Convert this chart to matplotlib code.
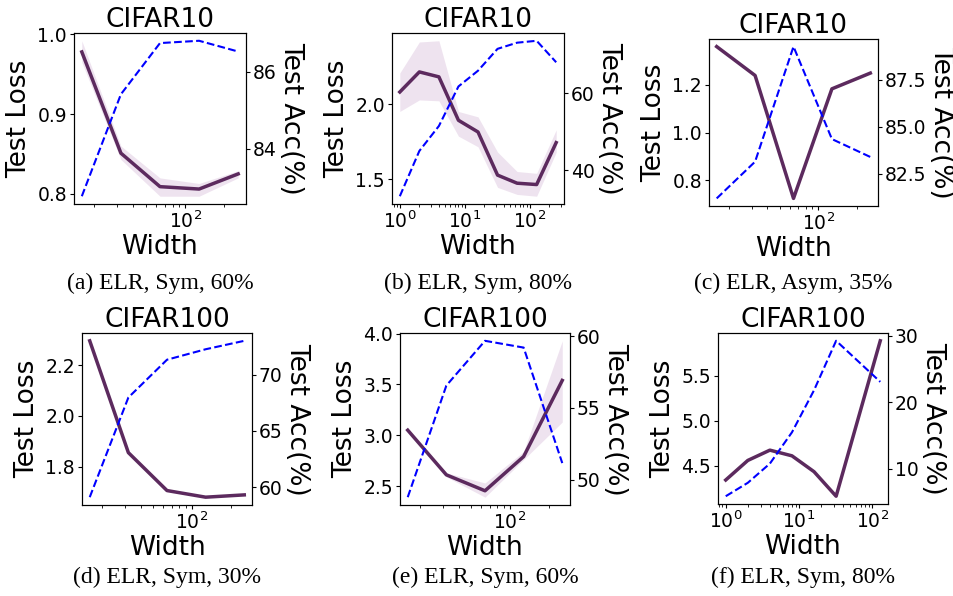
import numpy as np
import matplotlib.pyplot as plt
from matplotlib.ticker import MultipleLocator

# --------------------------------------------------
# Data
# --------------------------------------------------
w_mid = [16, 32, 64, 128, 256]
w_full = [1, 2, 4, 8, 16, 32, 64, 128, 256]
w_f = [1, 2, 4, 8, 16, 32, 128]

# (a) CIFAR10, Sym 60%
loss_a = [0.978, 0.851, 0.809, 0.806, 0.825]
loss_a_lo = [0.965, 0.843, 0.797, 0.797, 0.820]
loss_a_hi = [0.992, 0.860, 0.820, 0.813, 0.829]
acc_a = [82.76, 85.41, 86.74, 86.80, 86.52]

# (b) CIFAR10, Sym 80%
loss_b = [2.083, 2.217, 2.184, 1.894, 1.816, 1.528, 1.474, 1.465, 1.745]
loss_b_lo = [1.953, 2.030, 2.024, 1.788, 1.717, 1.446, 1.399, 1.387, 1.680]
loss_b_hi = [2.210, 2.417, 2.425, 1.953, 1.917, 1.682, 1.552, 1.540, 1.830]
acc_b = [33.2, 45.0, 51.5, 61.8, 65.9, 71.6, 73.2, 73.7, 68.1]

# (c) CIFAR10, Asym 35%
loss_c = [1.360, 1.239, 0.724, 1.183, 1.249]
acc_c = [81.2, 83.15, 89.26, 84.35, 83.4]

# (d) CIFAR100, Sym 30%
loss_d = [2.295, 1.856, 1.707, 1.681, 1.690]
acc_d = [59.1, 67.96, 71.32, 72.25, 73.0]

# (e) CIFAR100, Sym 60%
loss_e = [3.05, 2.61, 2.453, 2.79, 3.54]
loss_e_lo = [3.04, 2.59, 2.39, 2.76, 3.13]
loss_e_hi = [3.06, 2.63, 2.53, 2.84, 3.93]
acc_e = [48.8, 56.56, 59.67, 59.2, 51.17]

# (f) CIFAR100, Sym 80%
loss_f = [4.342, 4.559, 4.673, 4.610, 4.434, 4.162, 5.886]
acc_f = [5.85, 7.87, 10.76, 15.47, 21.8, 29.24, 23.06]

titles = ["CIFAR10", "CIFAR10", "CIFAR10", "CIFAR100", "CIFAR100", "CIFAR100"]
captions = ["(a) ELR, Sym, 60%", "(b) ELR, Sym, 80%", "(c) ELR, Asym, 35%",
            "(d) ELR, Sym, 30%", "(e) ELR, Sym, 60%", "(f) ELR, Sym, 80%"]

panels = [
    (w_mid, loss_a, loss_a_lo, loss_a_hi, acc_a),
    (w_full, loss_b, loss_b_lo, loss_b_hi, acc_b),
    (w_mid, loss_c, None, None, acc_c),
    (w_mid, loss_d, None, None, acc_d),
    (w_mid, loss_e, loss_e_lo, loss_e_hi, acc_e),
    (w_f, loss_f, None, None, acc_f),
]

# tick steps (left, right) per panel
steps = [(0.1, 2), (0.5, 20), (0.2, 2.5), (0.2, 5), (0.5, 5), (0.5, 10)]

# axes boxes in pixels: left, top, right, bottom
boxes = [
    (74, 33, 246, 204), (392, 33, 564, 204), (709, 39, 878, 206),
    (82, 333, 252, 505), (400, 333, 570, 505), (718, 333, 888, 504),
]

W, H = 954, 596
purple = "#5c2a5e"

fig = plt.figure(figsize=(W / 100, H / 100), dpi=100)

for i, (x, loss, lo, hi, acc) in enumerate(panels):
    l, t, r, b = boxes[i]
    ax = fig.add_axes([l / W, 1 - b / H, (r - l) / W, (b - t) / H])
    if lo is not None:
        ax.fill_between(x, lo, hi, color="#c9a3cc", alpha=0.3, linewidth=0)
    ax.plot(x, loss, color=purple, linewidth=2.5)
    ax.set_xscale("log")
    ax.set_xlabel("Width", fontsize=19, labelpad=1)
    ax.set_ylabel("Test Loss", fontsize=19, labelpad=4)
    ax.set_title(titles[i], fontsize=19, pad=4)
    ax.tick_params(labelsize=13.5, length=3, pad=2)
    ax.tick_params(which="minor", length=2)
    ax.yaxis.set_major_locator(MultipleLocator(steps[i][0]))

    ax2 = ax.twinx()
    ax2.plot(x, acc, color="blue", linestyle="--", linewidth=1.5)
    ax2.set_ylabel("Test Acc(%)", fontsize=19, rotation=270, labelpad=20)
    ax2.tick_params(labelsize=13.5, length=3, pad=2)
    ax2.yaxis.set_major_locator(MultipleLocator(steps[i][1]))

    cx = (l + r) / 2 / W
    cy = 1 - (283 if i < 3 else 577) / H
    fig.text(cx, cy, captions[i], ha="center", va="center",
             fontsize=17, family="Liberation Serif")

plt.savefig("out.png", dpi=100)
